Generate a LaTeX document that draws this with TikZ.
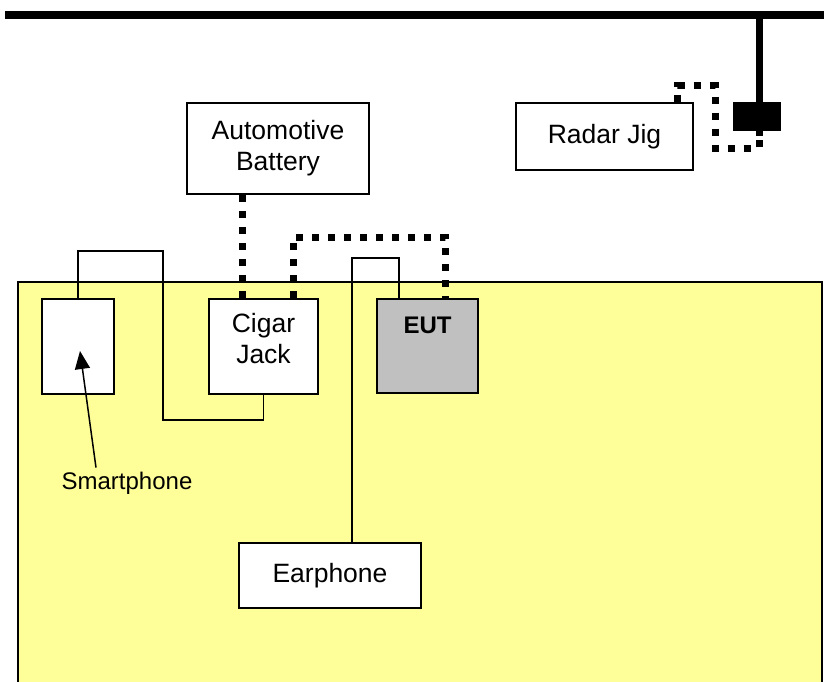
\documentclass[tikz,border=0pt]{standalone}
\usepackage{fontspec}
\setmainfont{Liberation Sans}
\usetikzlibrary{arrows.meta}
\definecolor{tableyellow}{HTML}{FFFF99}
\definecolor{eutgray}{HTML}{C0C0C0}
\tikzset{
  box/.style={draw=black, fill=white, line width=1.6pt, inner sep=0pt, align=center},
  cable/.style={draw=black, line width=1.5pt},
  dotcable/.style={draw=black, line width=7pt, dash pattern=on 7pt off 9pt},
  lbl/.style={font=\fontsize{26.5}{31}\selectfont, align=center, inner sep=0pt},
}
\begin{document}
\begin{tikzpicture}[x=1pt, y=-1pt]
\useasboundingbox (0,0) rectangle (824,682);
\clip (0,0) rectangle (824,682);
\fill[white] (0,0) rectangle (824,682);
% ceiling bar and mast
\coordinate (barL) at (5,15);
\coordinate (barR) at (830,15);
\coordinate (mastTop) at (759,15);
\coordinate (mastEnd) at (759,136);
\draw[line width=8.5pt] (barL) -- (barR);
\draw[line width=7pt] (mastTop) -- (mastEnd);
\node[fill=black, minimum width=48pt, minimum height=29pt, inner sep=0pt] (ant) at (757,116.5) {};
% table
\fill[tableyellow, draw=black, line width=2pt] (18,282) rectangle (822,700);
% boxes
\node[box, minimum width=182pt, minimum height=91pt, lbl] (batt) at (278,148.5) {Automotive\\Battery};
\node[box, minimum width=177pt, minimum height=67pt, lbl] (radar) at (604.5,136.5) {Radar Jig};
\node[box, minimum width=72pt, minimum height=95pt] (phone) at (78,346.5) {};
\node[box, minimum width=109pt, minimum height=95pt] (cigar) at (263.5,346.5) {};
\node[lbl] (cigartext) at (263.5,339) {Cigar\\Jack};
\node[box, fill=eutgray, minimum width=101pt, minimum height=94pt] (eut) at (427.5,346) {};
\node[lbl, font=\fontsize{24}{28}\selectfont\bfseries] (euttext) at (427.5,325) {EUT};
\node[box, minimum width=182pt, minimum height=65pt, lbl] (ear) at (330,575.5) {Earphone};
\node[lbl, font=\fontsize{24}{28}\selectfont] (smart) at (127,483) {Smartphone};
% thin cables
\draw[cable] (phone.north) |- (163,251) |- ([yshift=-25pt]cigar.south) -- (cigar.south);
\draw[cable] ([xshift=22pt]ear.north) |- ([xshift=23pt,yshift=40pt]eut.north west) -- ([xshift=23pt]eut.north west);
% arrow to smartphone
\coordinate (tip) at (80,351);
\draw[line width=1.5pt, -{Triangle[length=18pt,width=15pt]}] ([xshift=-31pt,yshift=4pt]smart.north) -- (tip);
% dotted power / rf cables
\draw[dotcable] ([xshift=56pt]batt.south west) -- ([xshift=34pt]cigar.north west);
\draw[dotcable] ([xshift=85pt]cigar.north west) |- (370,237) -| ([xshift=69pt]eut.north west);
\draw[dotcable] ([xshift=-16pt]radar.north east) |- (715,86) |- (740,148) -| (mastEnd);
\end{tikzpicture}
\end{document}
